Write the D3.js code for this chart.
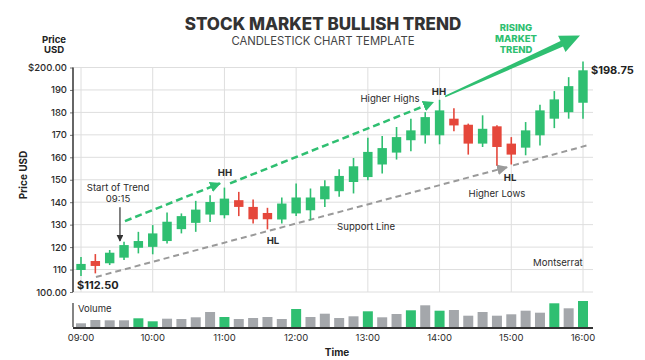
<!DOCTYPE html>
<html>
<head>
<meta charset="utf-8">
<script src="https://cdn.jsdelivr.net/npm/d3@7"></script>
<style>
  body { margin: 0; background: #fff; }
  svg { display: block; font-family: Inter, "Noto Sans", sans-serif; }
</style>
</head>
<body>
<svg id="chart" width="645" height="360"></svg>
<script>
// candle times (12 min bars)
const times = ["09:00","09:12","09:24","09:36","09:48","10:00","10:12","10:24","10:36","10:48",
  "11:00","11:12","11:24","11:36","11:48","12:00","12:12","12:24","12:36","12:48",
  "13:00","13:12","13:24","13:36","13:48","14:00","14:12","14:24","14:36","14:48",
  "15:00","15:12","15:24","15:36","15:48","16:00"];
const open  = [109.8,113.8,112.8,115.3,119.7,120.1,122.7,128.0,130.8,134.5,134.2,140.9,137.9,135.2,132.3,135.0,136.4,141.3,144.9,149.0,151.2,156.8,162.1,167.6,169.8,169.8,177.2,174.5,166.1,173.8,166.1,164.3,169.8,177.2,180.1,184.3];
const high  = [115.6,116.9,118.7,122.4,126.8,129.8,135.4,135.0,140.6,143.1,146.5,144.6,141.2,137.5,142.1,148.3,146.1,149.8,154.7,159.7,168.7,169.5,173.5,177.2,180.1,185.6,181.9,175.0,178.7,174.3,169.0,175.7,183.4,189.5,195.7,202.7];
const low   = [107.1,108.3,112.0,114.2,117.2,116.8,121.6,126.1,126.8,131.2,132.8,133.8,130.5,127.9,130.5,133.8,132.0,137.9,142.4,143.9,149.8,152.8,159.0,162.7,166.1,165.8,171.6,161.2,164.6,156.4,156.8,160.9,165.3,173.0,177.2,177.2];
const close = [112.5,111.6,117.5,120.9,122.7,126.1,131.3,133.8,136.7,140.1,141.6,137.9,132.4,132.4,139.4,142.1,142.1,147.1,151.7,156.0,162.4,164.1,169.0,172.0,177.9,180.9,174.2,166.1,172.7,164.6,161.2,172.0,180.9,185.8,191.7,198.75];
// volume (thousands) and which bars are highlighted
const volume = [37,70,67,67,87,57,83,80,97,150,100,80,90,100,80,180,100,133,90,107,157,97,130,167,217,163,170,113,150,113,127,163,143,237,187,260];
const volHot = [0,0,0,0,1,1,0,0,0,0,1,0,0,0,0,1,0,0,0,0,1,0,0,1,0,1,0,0,0,0,0,0,0,1,0,1];
const hourLabels = ["09:00","10:00","11:00","12:00","13:00","14:00","15:00","16:00"];
const priceTicks = [100,110,120,130,140,150,160,170,180,190,200];

const GREEN = "#2fbf71", RED = "#e5473b", GRAY = "#a4a7ab", INK = "#2b2b2b";

const mins = t => { const [h, m] = t.split(":").map(Number); return (h - 9) * 60 + m; };

const svg = d3.select("#chart");
const x = d3.scaleLinear().domain([0, 420]).range([81, 583]);
const y = d3.scaleLinear().domain([100, 200]).range([292, 67.5]);
const yv = d3.scaleLinear().domain([0, 260]).range([327, 301]);
const left = 73, right = 593;

// grid
svg.append("g").selectAll("line").data(priceTicks).join("line")
  .attr("x1", left).attr("x2", right)
  .attr("y1", d => y(d)).attr("y2", d => y(d))
  .attr("stroke", "#dedede").attr("stroke-width", 1);
svg.append("g").selectAll("line").data(hourLabels).join("line")
  .attr("x1", d => x(mins(d))).attr("x2", d => x(mins(d)))
  .attr("y1", y(200)).attr("y2", y(100))
  .attr("stroke", "#dedede").attr("stroke-width", 1);

// y axis
const yAxis = d3.axisLeft(y).tickValues(priceTicks).tickSize(3).tickPadding(3)
  .tickFormat(d => d === 200 ? "$200.00" : d === 100 ? "100.00" : d);
const ga = svg.append("g").attr("transform", `translate(${left},0)`).call(yAxis);
ga.select(".domain").remove();
ga.selectAll("line").attr("stroke", "#777");
ga.selectAll("text").attr("fill", INK).attr("font-size", 9.5).attr("font-weight", 500)
  .attr("font-family", "Inter, sans-serif");
svg.append("line").attr("x1", left).attr("x2", left).attr("y1", y(200)).attr("y2", y(100))
  .attr("stroke", "#333").attr("stroke-width", 1.5);

// support line (gray dashed) and higher highs (green dashed)
const defs = svg.append("defs");
function marker(id, color, s) {
  defs.append("marker").attr("id", id).attr("viewBox", "0 0 10 10")
    .attr("refX", 9).attr("refY", 5).attr("markerWidth", s).attr("markerHeight", s)
    .attr("markerUnits", "userSpaceOnUse").attr("orient", "auto")
    .append("path").attr("d", "M0,0L10,5L0,10z").attr("fill", color);
}
marker("ag", GREEN, 11);
marker("ay", "#9a9a9a", 11);
marker("ak", "#333", 7);

const supportSegs = [[[12.5, 106.7], [356.4, 155.6], true], [[361.5, 156.4], [423.4, 165.3], false]];
const highSegs = [[[36.8, 131.6], [116.3, 148.4]], [[124.7, 148.4], [294.5, 184.4]]];

supportSegs.forEach(([a, b, arrow]) => {
  svg.append("line").attr("x1", x(a[0])).attr("y1", y(a[1])).attr("x2", x(b[0])).attr("y2", y(b[1]))
    .attr("stroke", "#9a9a9a").attr("stroke-width", 2).attr("stroke-dasharray", "6,4")
    .attr("marker-end", arrow ? "url(#ay)" : null);
});
highSegs.forEach(([a, b]) => {
  svg.append("line").attr("x1", x(a[0])).attr("y1", y(a[1])).attr("x2", x(b[0])).attr("y2", y(b[1]))
    .attr("stroke", GREEN).attr("stroke-width", 2.5).attr("stroke-dasharray", "7,4")
    .attr("marker-end", "url(#ag)");
});

// candles
const candles = times.map((t, i) => ({ t: mins(t), o: open[i], h: high[i], l: low[i], c: close[i] }));
const cg = svg.append("g").selectAll("g").data(candles).join("g")
  .attr("fill", d => d.c >= d.o ? GREEN : RED).attr("stroke", d => d.c >= d.o ? GREEN : RED);
cg.append("line").attr("x1", d => x(d.t)).attr("x2", d => x(d.t))
  .attr("y1", d => y(d.h)).attr("y2", d => y(d.l)).attr("stroke-width", 1.6);
cg.append("rect").attr("x", d => x(d.t) - 4.7).attr("width", 9.4)
  .attr("y", d => y(Math.max(d.o, d.c))).attr("height", d => Math.max(2, Math.abs(y(d.o) - y(d.c))))
  .attr("stroke", "none");

// big rising trend arrow
(function () {
  const p0 = [x(304.6), y(187.1)], p1 = [x(417.5), y(214.2)];
  const dx = p1[0] - p0[0], dy = p1[1] - p0[1], L = Math.hypot(dx, dy);
  const u = [dx / L, dy / L], n = [-u[1], u[0]];
  const hl = 20, hw = 9;
  const b = [p1[0] - u[0] * hl, p1[1] - u[1] * hl];
  const pt = (p, k) => [p[0] + n[0] * k, p[1] + n[1] * k];
  const poly = [pt(p0, 0.8), pt(b, 3), pt(b, hw), p1, pt(b, -hw), pt(b, -3), pt(p0, -0.8)];
  svg.append("path").attr("d", "M" + poly.map(p => p.join(",")).join("L") + "Z").attr("fill", GREEN);
})();

// start of trend arrow
svg.append("line").attr("x1", x(32.6)).attr("x2", x(32.6)).attr("y1", y(137.8)).attr("y2", y(122.7))
  .attr("stroke", "#333").attr("stroke-width", 1.2).attr("marker-end", "url(#ak)");

// annotations
const notes = [
  { t: 31, p: 146.6, s: "Start of Trend", w: 400 },
  { t: 31, p: 141.8, s: "09:15", w: 400 },
  { t: 120.5, p: 153.1, s: "HH", w: 700 },
  { t: 299.5, p: 189.3, s: "HH", w: 700 },
  { t: 258.5, p: 186.2, s: "Higher Highs", w: 400 },
  { t: 160.6, p: 122.7, s: "HL", w: 700 },
  { t: 359, p: 151.1, s: "HL", w: 700 },
  { t: 238.5, p: 128.9, s: "Support Line", w: 400 },
  { t: 348, p: 144, s: "Higher Lows", w: 400 },
  { t: 399, p: 112.9, s: "Montserrat", w: 400 }
];
svg.append("g").selectAll("text").data(notes).join("text")
  .attr("x", d => x(d.t)).attr("y", d => y(d.p)).attr("dy", "0.35em")
  .attr("text-anchor", "middle").attr("font-size", 9.6).attr("font-weight", d => d.w)
  .attr("fill", INK).text(d => d.s);

svg.append("text").attr("x", x(0) - 4).attr("y", y(103.1)).attr("dy", "0.35em")
  .attr("font-size", 11).attr("font-weight", 700).attr("fill", "#222").text("$112.50");
svg.append("text").attr("x", x(420) + 8).attr("y", y(close[close.length - 1])).attr("dy", "0.35em")
  .attr("font-size", 11).attr("font-weight", 700).attr("fill", "#222").text("$198.75");

// titles
svg.append("text").attr("x", 323).attr("y", 30).attr("text-anchor", "middle")
  .attr("font-size", 17).attr("font-weight", 800).attr("fill", "#333").text("STOCK MARKET BULLISH TREND");
svg.append("text").attr("x", 323).attr("y", 45).attr("text-anchor", "middle")
  .attr("font-size", 11.3).attr("font-weight", 400).attr("fill", "#444").text("CANDLESTICK CHART TEMPLATE");
svg.append("text").attr("x", 54).attr("text-anchor", "middle").attr("font-size", 9.6).attr("font-weight", 700).attr("fill", "#222")
  .selectAll("tspan").data(["Price", "USD"]).join("tspan").attr("x", 54).attr("y", (d, i) => 42.5 + i * 10.5).text(d => d);
svg.append("text").attr("text-anchor", "middle").attr("font-size", 9.5).attr("font-weight", 800).attr("fill", GREEN)
  .selectAll("tspan").data(["RISING", "MARKET", "TREND"]).join("tspan")
  .attr("x", 516).attr("y", (d, i) => 30.5 + i * 11).text(d => d);
svg.append("text").attr("transform", "translate(27,175) rotate(-90)").attr("text-anchor", "middle")
  .attr("font-size", 10).attr("font-weight", 700).attr("fill", "#222").text("Price USD");

// volume panel
svg.append("g").selectAll("rect").data(volume).join("rect")
  .attr("x", (d, i) => x(mins(times[i])) - 5).attr("width", 10)
  .attr("y", d => yv(d)).attr("height", d => yv(0) - yv(d))
  .attr("fill", (d, i) => volHot[i] ? GREEN : GRAY);
svg.append("line").attr("x1", left).attr("x2", left).attr("y1", 303).attr("y2", yv(0))
  .attr("stroke", "#333").attr("stroke-width", 1.2);
svg.append("line").attr("x1", left).attr("x2", right).attr("y1", yv(0) + 1).attr("y2", yv(0) + 1)
  .attr("stroke", "#333").attr("stroke-width", 2);
svg.append("text").attr("x", left + 5).attr("y", 309).attr("dy", "0.35em").attr("font-size", 9.5)
  .attr("fill", INK).text("Volume");

// x labels
svg.append("g").selectAll("text").data(hourLabels).join("text")
  .attr("x", d => x(mins(d))).attr("y", 338).attr("dy", "0.35em").attr("text-anchor", "middle")
  .attr("font-size", 9.5).attr("fill", INK).text(d => d);
svg.append("text").attr("x", 337).attr("y", 352).attr("dy", "0.35em").attr("text-anchor", "middle")
  .attr("font-size", 10).attr("font-weight", 700).attr("fill", "#222").text("Time");
</script>
</body>
</html>
